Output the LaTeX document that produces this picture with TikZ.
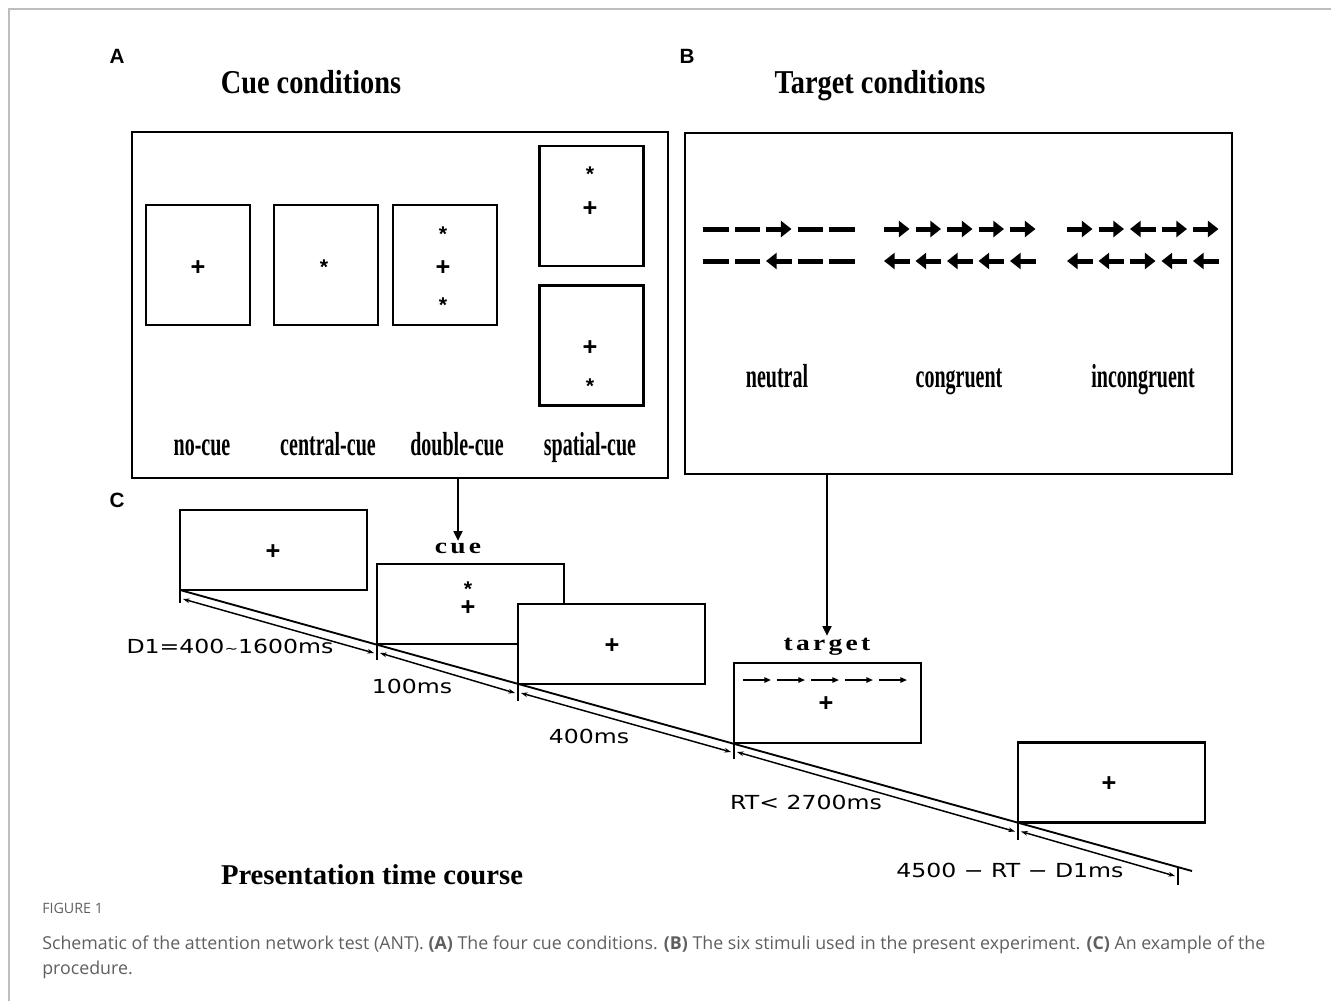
\documentclass[tikz,border=0pt]{standalone}
\usepackage{fontspec}
\setmainfont{Liberation Serif}
\newfontfamily\condfont[FakeStretch=0.6]{Liberation Serif}
\newfontfamily\titlefont[FakeStretch=0.85]{Liberation Serif}
\newfontfamily\widefont[FakeStretch=1.25,LetterSpace=15]{Liberation Serif}
\newfontfamily\timefont[FakeStretch=1.22]{DejaVu Sans}
\newfontfamily\panelfont{Liberation Sans}
\newfontfamily\capfont{Open Sans}
\usetikzlibrary{arrows.meta,positioning}
\definecolor{capgray}{HTML}{5F5F5F}
\definecolor{framegray}{HTML}{BDBDBD}
% five flanker elements: x, y, pitch, then one style per element
\newcommand{\flanker}[8]{%
  \draw[#4] (#1,#2) -- ++(#3-6,0);
  \draw[#5] (#1+#3,#2) -- ++(#3-6,0);
  \draw[#6] (#1+2*#3,#2) -- ++(#3-6,0);
  \draw[#7] (#1+3*#3,#2) -- ++(#3-6,0);
  \draw[#8] (#1+4*#3,#2) -- ++(#3-6,0);}

\begin{document}
\begin{tikzpicture}[x=0.75pt, y=-0.75pt,
  panel/.style={draw, line width=1.7pt, inner sep=0pt, outer sep=0pt},
  cuescr/.style={draw, line width=1.9pt, minimum width=78pt,
                 minimum height=90pt, inner sep=0pt, outer sep=0pt},
  screen/.style={draw, fill=white, line width=1.9pt, minimum width=140.25pt,
                 minimum height=60pt, anchor=south west, inner sep=0pt,
                 outer sep=0pt},
  fixsym/.style={font=\panelfont\bfseries\fontsize{19}{19}\selectfont,
                 inner sep=0pt, text height=1ex, text depth=0pt},
  cuesym/.style={font=\panelfont\bfseries\fontsize{16}{16}\selectfont,
                 inner sep=0pt, text height=1ex, text depth=0pt},
  cuemark/.style={font=\panelfont\bfseries\fontsize{19}{13.9}\selectfont,
                  inner sep=0pt, align=center},
  plabel/.style={font=\panelfont\bfseries\fontsize{15.5}{15.5}\selectfont},
  ttl/.style={font=\titlefont\bfseries\fontsize{25}{25}\selectfont, anchor=base},
  cond/.style={font=\condfont\bfseries\fontsize{25}{25}\selectfont, anchor=base},
  stage/.style={font=\widefont\bfseries\fontsize{16.5}{16.5}\selectfont,
                inner sep=1pt, anchor=base},
  dlabel/.style={font=\timefont\fontsize{14.5}{14.5}\selectfont},
  fr/.style={line width=3.75pt, -{Triangle[length=8pt,width=12pt]}},
  fl/.style={line width=3.75pt, {Triangle[length=8pt,width=12pt]}-},
  fn/.style={line width=3.75pt},
  tr/.style={line width=1.1pt, -{Triangle[length=5pt,width=4pt]}},
  conn/.style={line width=2.2pt, -{Triangle[length=7.5pt,width=6.5pt]}},
  tick/.style={line width=1.7pt},
  tline/.style={line width=1.4pt},
  dur/.style={line width=1.1pt, {Stealth[length=5pt,width=3.5pt]}-{Stealth[length=5pt,width=3.5pt]}},
  capfig/.style={font=\capfont\fontsize{10.7}{10.7}\selectfont, text=capgray, inner sep=0pt},
  captxt/.style={font=\capfont\fontsize{13.35}{18.75}\selectfont, text=capgray,
                 align=left, inner sep=0pt}]

\useasboundingbox (0,0) rectangle (1331,1001);
\draw[framegray, line width=1.5pt] (9,1001) -- (9,9) -- (1331,9);

% panel A: cue conditions
\node[plabel] (labA) at (117,56) {A};
\node[ttl] (cuettl) at (311,93) {Cue conditions};
\node[panel, minimum width=402pt, minimum height=259.5pt] (cuepanel) at (400,305) {};
\node[cuescr] (nocue) at (198,265) {};
\node[cuescr] (central) at (326,265) {};
\node[cuescr] (double) at (445,265) {};
\node[cuescr] (spatup) at (591.5,206) {};
\node[cuescr] (spatdn) at (591.5,345.5) {};
\node[fixsym] (nocuefix) at (198,272) {+};
\node[cuesym] (centralstar) at (324,271.5) {*};
\node[cuesym] (doubletop) at (443,238.5) {*};
\node[fixsym] (doublefix) at (443,272) {+};
\node[cuesym] (doublebot) at (443,309.5) {*};
\node[cuesym] (spatstar1) at (590,178.5) {*};
\node[fixsym] (spatfix1) at (590,213) {+};
\node[fixsym] (spatfix2) at (590,352) {+};
\node[cuesym] (spatstar2) at (590,390.5) {*};
\node[cond] (nocuelbl) at (202,455) {no-cue};
\node[cond] (centrallbl) at (328,455) {central-cue};
\node[cond] (doublelbl) at (457,455) {double-cue};
\node[cond] (spatlbl) at (590,455) {spatial-cue};

% panel B: target conditions
\node[plabel] (labB) at (687,56) {B};
\node[ttl] (tgtttl) at (880,93) {Target conditions};
\node[panel, minimum width=410.25pt, minimum height=255.75pt] (tgtpanel) at (958.5,303.5) {};
\flanker{703}{229}{31.5}{fn}{fn}{fr}{fn}{fn}
\flanker{703}{261}{31.5}{fn}{fn}{fl}{fn}{fn}
\flanker{884}{229}{31.5}{fr}{fr}{fr}{fr}{fr}
\flanker{884}{261}{31.5}{fl}{fl}{fl}{fl}{fl}
\flanker{1067}{229}{31.5}{fr}{fr}{fl}{fr}{fr}
\flanker{1067}{261}{31.5}{fl}{fl}{fr}{fl}{fl}
\node[cond] (neutlbl) at (777,387) {neutral};
\node[cond] (conglbl) at (959,387) {congruent};
\node[cond] (inclbl) at (1143,387) {incongruent};

% panel C: presentation time course
\node[plabel] (labC) at (117,500) {C};
\node[screen] (fix1) at (180,590) {};
\node[screen] (cuebox) at (377,644) {};
\node[screen] (fix2) at (518,684) {};
\node[screen] (tgtbox) at (734,743) {};
\node[screen] (fix3) at (1018,822.5) {};
\node[fixsym] (fix1plus) at (273,556) {+};
\node[cuemark] (cuesign) at (468,598.5) {{\fontsize{16}{13.9}\selectfont *}\\+};
\node[fixsym] (fix2plus) at (612,650) {+};
\node[fixsym] (tgtplus) at (826,708) {+};
\node[fixsym] (fix3plus) at (1109,788) {+};
\flanker{743}{680}{34}{tr}{tr}{tr}{tr}{tr}
\node[stage] (cuelbl) at (458,553) {cue};
\node[stage] (tgtlbl) at (827,650) {target};
\draw[conn] (cuepanel.south -| cuelbl.north) -- (cuelbl.north);
\draw[conn] (tgtpanel.south -| tgtlbl.north) -- (tgtlbl.north);

\coordinate (endtick) at (1178,867);
\coordinate (endline) at (1192,871);
\draw[tline] (fix1.south west) -- (endline);
\draw[tick] (fix1.south west) -- ++(0,13);
\draw[tick] (cuebox.south west) -- ++(0,16);
\draw[tick] (fix2.south west) -- ++(0,17);
\draw[tick] (tgtbox.south west) -- ++(0,16);
\draw[tick] (fix3.south west) -- ++(0,17);
\draw[tick] (endtick) -- ++(0,18);
\draw[dur] ([shift={(3,9)}]fix1.south west) -- ([shift={(-3,9)}]cuebox.south west);
\draw[dur] ([shift={(3,9)}]cuebox.south west) -- ([shift={(-3,9)}]fix2.south west);
\draw[dur] ([shift={(3,9)}]fix2.south west) -- ([shift={(-3,9)}]tgtbox.south west);
\draw[dur] ([shift={(3,9)}]tgtbox.south west) -- ([shift={(-3,9)}]fix3.south west);
\draw[dur] ([shift={(3,9)}]fix3.south west) -- ([shift={(-3,9)}]endtick);
\node[dlabel] (d1lbl) at (230,646) {D1=400{\fontsize{10}{10}\selectfont\textasciitilde}1600ms};
\node[dlabel] (cuedur) at (412,686) {100ms};
\node[dlabel] (soadur) at (589,736) {400ms};
\node[dlabel] (rtdur) at (806,802) {RT< 2700ms};
\node[dlabel] (restdur) at (1010,870) {4500 − RT − D1ms};
\node[ttl, font=\bfseries\fontsize{21.5}{21.5}\selectfont] (timettl) at (372,884) {Presentation time course};

% caption
\node[capfig, anchor=west] (fignum) at (42,908) {FIGURE 1};
\node[captxt, anchor=north west] (capt) at (42,936) {Schematic of the attention network test (ANT). \textbf{(A)} The four cue conditions. \textbf{(B)} The six stimuli used in the present experiment. \textbf{(C)} An example of the\\procedure.};
\end{tikzpicture}
\end{document}
